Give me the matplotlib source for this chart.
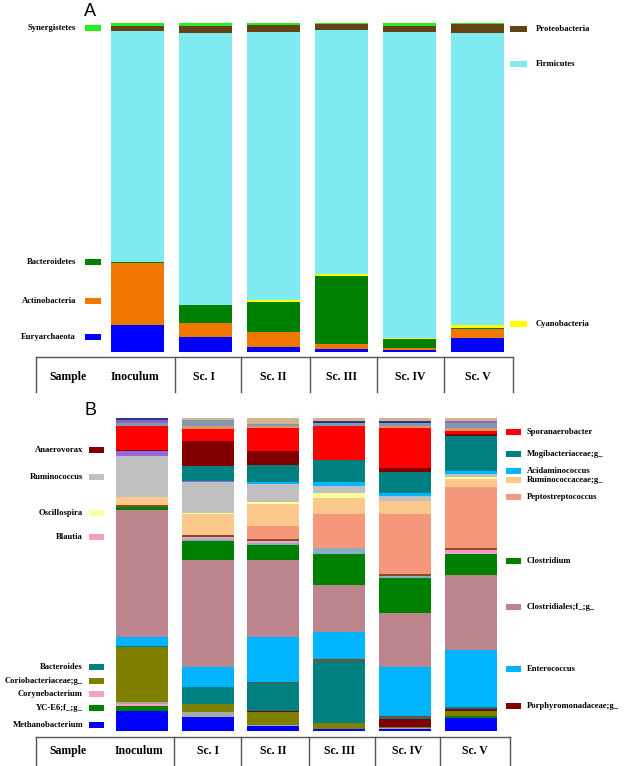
import matplotlib
matplotlib.use('Agg')
import matplotlib.pyplot as plt
from matplotlib.patches import Rectangle
from matplotlib.lines import Line2D
import numpy as np

W, H = 625, 766
samples = ['Inoculum', 'Sc. I', 'Sc. II', 'Sc. III', 'Sc. IV', 'Sc. V']

# ---- panel A : phylum level, % relative abundance (bottom -> top)
phyla = ['Euryarchaeota', 'Actinobacteria', 'Bacteroidetes', 'Cyanobacteria',
         'Firmicutes', 'Proteobacteria', 'Synergistetes']
euryarchaeota = [8.2, 4.5, 1.6, 0.8, 0.6, 4.3]
actinobacteria = [18.8, 4.3, 4.4, 1.6, 0.5, 2.6]
bacteroidetes = [0.5, 5.4, 9.1, 20.8, 2.7, 0.5]
cyanobacteria = [0.0, 0.0, 0.7, 0.5, 0.6, 0.7]
firmicutes = [70.2, 83.0, 81.3, 74.1, 92.7, 88.8]
proteobacteria = [1.4, 2.0, 2.3, 1.8, 1.9, 2.9]
synergistetes = [0.9, 0.9, 0.5, 0.4, 0.9, 0.2]
phyla_colors = ['#0000ff', '#f07800', '#008000', '#ffff00', '#80eaf2', '#654213', '#22ee22']

# ---- panel B : genus level, % relative abundance (bottom -> top)
methanobacterium = [6.4, 4.6, 1.6, 0.5, 0.6, 4.2]
yc_e6 = [1.6, 0.0, 0.0, 0.0, 0.0, 0.7]
corynebacterium = [0.6, 0.0, 0.0, 0.0, 0.0, 0.0]
other_gray = [0.6, 1.4, 0.4, 0.0, 0.3, 0.0]
coriobacteriaceae = [17.6, 2.6, 4.0, 1.9, 0.4, 1.5]
porphyromonadaceae = [0.0, 0.0, 0.3, 0.0, 2.5, 0.6]
bacteroides = [0.3, 5.6, 8.9, 19.7, 0.3, 0.6]
other_dark = [0.0, 0.0, 0.5, 1.0, 0.7, 0.0]
enterococcus = [2.9, 6.1, 14.4, 8.6, 15.6, 18.3]
clostridiales = [40.3, 34.4, 24.3, 14.9, 17.4, 23.8]
clostridium = [1.1, 6.1, 4.8, 10.1, 11.2, 6.9]
other_cyan = [0.0, 0.6, 0.8, 1.7, 0.5, 0.0]
blautia = [0.0, 0.6, 0.6, 0.0, 0.0, 1.2]
other_brown = [0.5, 0.6, 0.5, 0.0, 0.6, 0.6]
peptostreptococcus = [0.0, 0.0, 4.3, 10.8, 19.1, 19.5]
ruminococcaceae = [2.7, 6.7, 6.9, 5.4, 4.3, 2.5]
oscillospira = [0.0, 0.5, 0.6, 1.5, 0.0, 0.7]
ruminococcus = [12.9, 9.8, 5.8, 2.1, 1.5, 0.8]
acidaminococcus = [0.0, 0.0, 0.7, 1.4, 1.1, 1.2]
other_purple = [1.5, 0.4, 0.0, 0.0, 0.0, 0.0]
mogibacteriaceae = [0.0, 4.7, 5.3, 6.9, 6.6, 11.0]
anaerovorax = [0.3, 7.8, 4.6, 0.0, 1.4, 0.6]
sporanaerobacter = [7.8, 4.0, 7.2, 11.0, 12.6, 1.0]
other_orange = [0.0, 0.8, 0.8, 0.0, 0.8, 1.0]
other_slate = [0.8, 2.0, 0.7, 1.0, 1.0, 1.6]
other_violet = [1.0, 0.0, 0.0, 0.0, 0.0, 0.7]
other_navy = [0.7, 0.0, 0.0, 0.5, 0.5, 0.0]
other_tan = [0.0, 0.7, 1.8, 1.0, 1.0, 0.9]

genera = [methanobacterium, yc_e6, corynebacterium, other_gray, coriobacteriaceae,
          porphyromonadaceae, bacteroides, other_dark, enterococcus, clostridiales,
          clostridium, other_cyan, blautia, other_brown, peptostreptococcus,
          ruminococcaceae, oscillospira, ruminococcus, acidaminococcus, other_purple,
          mogibacteriaceae, anaerovorax, sporanaerobacter, other_orange, other_slate,
          other_violet, other_navy, other_tan]
genera_colors = ['#0000ff', '#008000', '#f4a0c8', '#a8a8a8', '#808000',
                 '#800000', '#008080', '#5c5c44', '#00b4ff', '#bc848c',
                 '#008000', '#8aafc0', '#f4a0c0', '#8b4a2a', '#f5977a',
                 '#fbc88c', '#ffff99', '#c0c0c0', '#00b8ff', '#9966dd',
                 '#008080', '#800000', '#ff0000', '#e8906a', '#7f9aae',
                 '#8f62c6', '#303090', '#d2b48c']

# legend entries (label, colour, y pixel)
legA_left = [('Synergistetes', '#22ee22', 28), ('Bacteroidetes', '#008000', 262),
             ('Actinobacteria', '#f07800', 301), ('Euryarchaeota', '#0000ff', 337)]
legA_right = [('Proteobacteria', '#654213', 29), ('Firmicutes', '#80eaf2', 64),
              ('Cyanobacteria', '#ffff00', 324)]
legB_left = [('Anaerovorax', '#800000', 450), ('Ruminococcus', '#c0c0c0', 477),
             ('Oscillospira', '#ffff99', 513), ('Blautia', '#f4a0c0', 537),
             ('Bacteroides', '#008080', 667), ('Coriobacteriaceae;g_', '#808000', 681),
             ('Corynebacterium', '#f4a0c8', 694), ('YC-E6;f_;g_', '#008000', 708),
             ('Methanobacterium', '#0000ff', 725)]
legB_right = [('Sporanaerobacter', '#ff0000', 432), ('Mogibacteriaceae;g_', '#008080', 454),
              ('Acidaminococcus', '#00b8ff', 471), ('Ruminococcaceae;g_', '#fbc88c', 480),
              ('Peptostreptococcus', '#f5977a', 497), ('Clostridium', '#008000', 561),
              ('Clostridiales;f_;g_', '#bc848c', 607), ('Enterococcus', '#00b4ff', 669),
              ('Porphyromonadaceae;g_', '#800000', 706)]

plt.rcParams['font.family'] = ['Liberation Serif', 'DejaVu Serif']

def fx(x):
    return x / W

def fy(y):
    return 1 - y / H

fig = plt.figure(figsize=(W / 100, H / 100), dpi=100)

def stacked(ax, series, colors, x0, step, width):
    x = np.arange(len(samples))
    data = np.array(series, dtype=float)
    data = data / data.sum(axis=0) * 100
    bottom = np.zeros(len(samples))
    for vals, c in zip(data, colors):
        ax.bar(x, vals, width, bottom=bottom, color=c, linewidth=0)
        bottom += vals
    ax.set_xlim(-x0 / step, (W - x0) / step)
    ax.set_ylim(0, 100)
    ax.axis('off')

# panel A
axA = fig.add_axes([0, fy(352), 1, fy(23) - fy(352)])
stacked(axA, [euryarchaeota, actinobacteria, bacteroidetes, cyanobacteria,
              firmicutes, proteobacteria, synergistetes],
        phyla_colors, 137.5, 68, 53 / 68)

# panel B
axB = fig.add_axes([0, fy(731), 1, fy(418) - fy(731)])
stacked(axB, genera, genera_colors, 141.5, 66, 52 / 66)

def legend_item(label, color, y, xp0, xp1, side, gap=9):
    fig.add_artist(Rectangle((fx(xp0), fy(y + 3)), fx(xp1 - xp0), (6 / H),
                             transform=fig.transFigure, color=color, lw=0))
    if side == 'left':
        fig.text(fx(xp0 - gap), fy(y), label, ha='right', va='center',
                 fontsize=6.2, fontweight='bold')
    else:
        fig.text(fx(xp1 + gap), fy(y), label, ha='left', va='center',
                 fontsize=6.2, fontweight='bold')

for lab, c, y in legA_left:
    legend_item(lab, c, y, 85, 101, 'left')
for lab, c, y in legA_right:
    legend_item(lab, c, y, 510, 527, 'right')
for lab, c, y in legB_left:
    legend_item(lab, c, y, 89, 104, 'left', gap=6)
for lab, c, y in legB_right:
    legend_item(lab, c, y, 506, 521, 'right', gap=6)

# panel letters
fig.text(fx(90), fy(11), 'A', ha='center', va='center', fontsize=13,
         family='Liberation Sans')
fig.text(fx(90), fy(411), 'B', ha='center', va='center', fontsize=13,
         family='Liberation Sans')

# sample tables under the bars
def table(top, bottom, seps, text_y, text_x):
    lc = '#555555'
    fig.add_artist(Line2D([fx(36), fx(seps[-1])], [fy(top), fy(top)],
                          transform=fig.transFigure, color=lc, lw=1.0))
    for xs in [36] + seps:
        fig.add_artist(Line2D([fx(xs), fx(xs)], [fy(top), fy(bottom)],
                              transform=fig.transFigure, color=lc, lw=1.0))
    fig.text(fx(68), fy(text_y), 'Sample', ha='center', va='center',
             fontsize=8.5, fontweight='bold')
    for s, tx in zip(samples, text_x):
        fig.text(fx(tx), fy(text_y), s, ha='center', va='center',
                 fontsize=8.5, fontweight='bold')

table(357, 392, [175, 241, 310, 377, 444, 513], 377, [135, 204, 273, 342, 410, 478])
table(737, 770, [174, 241, 309, 375, 440, 510], 751, [139, 208, 273, 340, 407, 475])

fig.savefig('out.png', dpi=100)
